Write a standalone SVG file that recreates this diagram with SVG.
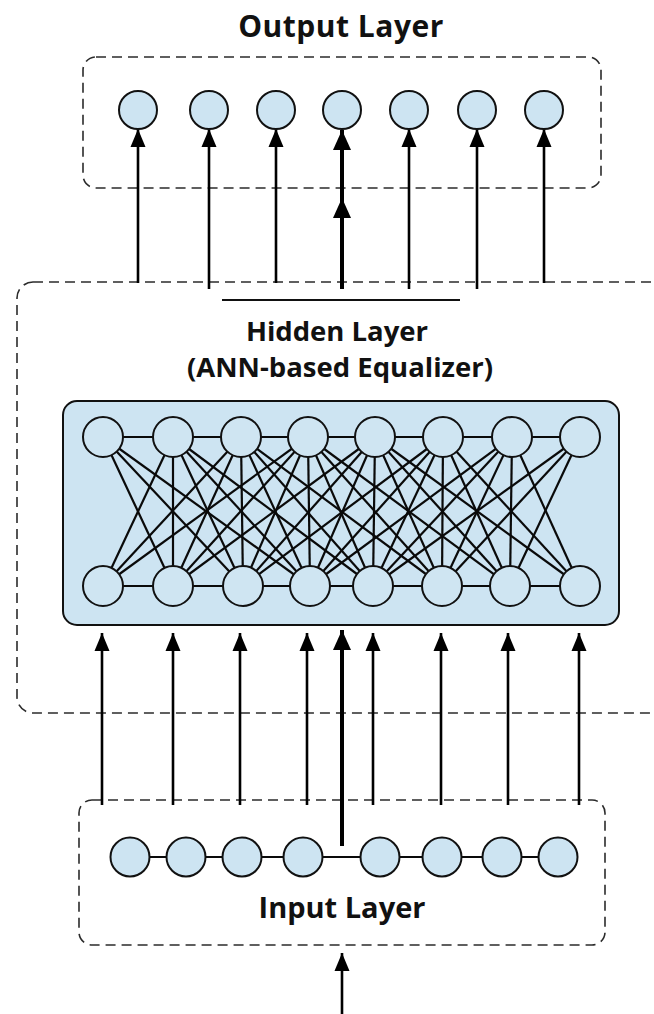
<svg xmlns="http://www.w3.org/2000/svg" width="654" height="1014" viewBox="0 0 654 1014">
  <style>
    .dash { fill: none; stroke: #2b2b2b; stroke-width: 1.6; stroke-dasharray: 10 6; }
    .node { fill: #cde4f2; stroke: #111; stroke-width: 2; }
    .hnode { fill: #cfe5f2; stroke: #111; stroke-width: 2; }
    .edge { stroke: #0a0a0a; stroke-width: 2.2; fill: none; }
    .arr { stroke: #000; stroke-width: 2.6; fill: none; marker-end: url(#ah); }
    .arrT { stroke: #000; stroke-width: 4; fill: none; marker-end: url(#ahT); }
    .title { font-family: "Open Sans", "Liberation Sans", sans-serif; font-weight: 700; fill: #111; text-anchor: middle; }
  </style>
  <defs>
    <marker id="ah" markerUnits="userSpaceOnUse" markerWidth="20" markerHeight="20" viewBox="0 0 20 20" refX="18" refY="10" orient="auto">
      <path d="M0,2.5 L18,10 L0,17.5 Z" fill="#000"/>
    </marker>
    <marker id="ahT" markerUnits="userSpaceOnUse" markerWidth="22" markerHeight="22" viewBox="0 0 22 22" refX="20" refY="11" orient="auto">
      <path d="M0,2 L20,11 L0,20 Z" fill="#000"/>
    </marker>
  </defs>
  <rect width="654" height="1014" fill="#fff"/>

  <!-- containers -->
  <g id="output-layer-box">
    <rect class="dash" x="83" y="57" width="518" height="131" rx="13"/>
    <text class="title" x="341" y="37" font-size="30" letter-spacing="0.5">Output Layer</text>
  </g>
  <g id="hidden-layer-box">
    <rect class="dash" x="17" y="282" width="700" height="431" rx="16"/>
    <line x1="222" y1="300" x2="460" y2="300" stroke="#111" stroke-width="2"/>
    <text class="title" x="337" y="341" font-size="27.5" font-weight="600">Hidden Layer</text>
    <text class="title" x="340" y="377" font-size="27.5" font-weight="600">(ANN-based Equalizer)</text>
  </g>
  <g id="ann-panel">
    <rect x="63" y="401" width="556" height="224" rx="14" fill="#cde4f2" stroke="#111" stroke-width="2"/>
  </g>
  <g id="input-layer-box">
    <rect class="dash" x="79" y="800" width="526" height="145" rx="13"/>
    <text class="title" x="342" y="918" font-size="29">Input Layer</text>
  </g>

  <!-- connectors -->
  <g id="connectors">
    <!-- hidden mesh -->
    <g id="hidden-edges">
      <line class="edge" x1="103" y1="437" x2="580" y2="437"/>
      <line class="edge" x1="103" y1="586" x2="580" y2="586"/>
      <!-- verticals -->
      <line class="edge" x1="173" y1="437" x2="173" y2="586"/>
      <line class="edge" x1="241" y1="437" x2="243" y2="586"/>
      <line class="edge" x1="308" y1="437" x2="310" y2="586"/>
      <line class="edge" x1="375" y1="437" x2="373" y2="586"/>
      <line class="edge" x1="443" y1="437" x2="442" y2="586"/>
      <line class="edge" x1="512" y1="437" x2="510" y2="586"/>
      <!-- T1 -->
      <line class="edge" x1="103" y1="437" x2="173" y2="586"/>
      <line class="edge" x1="103" y1="437" x2="243" y2="586"/>
      <line class="edge" x1="103" y1="437" x2="310" y2="586"/>
      <!-- T2 -->
      <line class="edge" x1="173" y1="437" x2="103" y2="586"/>
      <line class="edge" x1="173" y1="437" x2="243" y2="586"/>
      <line class="edge" x1="173" y1="437" x2="310" y2="586"/>
      <line class="edge" x1="173" y1="437" x2="373" y2="586"/>
      <!-- T3 -->
      <line class="edge" x1="241" y1="437" x2="103" y2="586"/>
      <line class="edge" x1="241" y1="437" x2="173" y2="586"/>
      <line class="edge" x1="241" y1="437" x2="310" y2="586"/>
      <line class="edge" x1="241" y1="437" x2="373" y2="586"/>
      <line class="edge" x1="241" y1="437" x2="442" y2="586"/>
      <!-- T4 -->
      <line class="edge" x1="308" y1="437" x2="103" y2="586"/>
      <line class="edge" x1="308" y1="437" x2="173" y2="586"/>
      <line class="edge" x1="308" y1="437" x2="243" y2="586"/>
      <line class="edge" x1="308" y1="437" x2="373" y2="586"/>
      <line class="edge" x1="308" y1="437" x2="442" y2="586"/>
      <line class="edge" x1="308" y1="437" x2="510" y2="586"/>
      <!-- T5 -->
      <line class="edge" x1="375" y1="437" x2="173" y2="586"/>
      <line class="edge" x1="375" y1="437" x2="243" y2="586"/>
      <line class="edge" x1="375" y1="437" x2="310" y2="586"/>
      <line class="edge" x1="375" y1="437" x2="442" y2="586"/>
      <line class="edge" x1="375" y1="437" x2="510" y2="586"/>
      <line class="edge" x1="375" y1="437" x2="580" y2="586"/>
      <!-- T6 -->
      <line class="edge" x1="443" y1="437" x2="243" y2="586"/>
      <line class="edge" x1="443" y1="437" x2="310" y2="586"/>
      <line class="edge" x1="443" y1="437" x2="373" y2="586"/>
      <line class="edge" x1="443" y1="437" x2="510" y2="586"/>
      <line class="edge" x1="443" y1="437" x2="580" y2="586"/>
      <!-- T7 -->
      <line class="edge" x1="512" y1="437" x2="310" y2="586"/>
      <line class="edge" x1="512" y1="437" x2="373" y2="586"/>
      <line class="edge" x1="512" y1="437" x2="442" y2="586"/>
      <line class="edge" x1="512" y1="437" x2="580" y2="586"/>
      <!-- T8 -->
      <line class="edge" x1="580" y1="437" x2="373" y2="586"/>
      <line class="edge" x1="580" y1="437" x2="442" y2="586"/>
      <line class="edge" x1="580" y1="437" x2="510" y2="586"/>
    </g>
    <!-- input chain -->
    <line class="edge" x1="130" y1="857" x2="558" y2="857" stroke-width="1.8"/>
    <!-- hidden -> output arrows -->
    <line class="arr" x1="138" y1="283" x2="138" y2="129"/>
    <line class="arr" x1="209" y1="289" x2="209" y2="129"/>
    <line class="arr" x1="276" y1="283" x2="276" y2="129"/>
    <path class="arrT" d="M342,289 L342,198 L342,130" marker-mid="url(#ahT)"/>
    <line class="arr" x1="409" y1="289" x2="409" y2="129"/>
    <line class="arr" x1="477" y1="289" x2="477" y2="129"/>
    <line class="arr" x1="544" y1="283" x2="544" y2="129"/>
    <!-- input -> hidden arrows -->
    <line class="arr" x1="102" y1="805" x2="102" y2="633"/>
    <line class="arr" x1="173" y1="805" x2="173" y2="633"/>
    <line class="arr" x1="240" y1="805" x2="240" y2="633"/>
    <line class="arr" x1="307" y1="805" x2="307" y2="633"/>
    <line class="arrT" x1="342" y1="846" x2="342" y2="630"/>
    <line class="arr" x1="373" y1="805" x2="373" y2="633"/>
    <line class="arr" x1="441" y1="805" x2="441" y2="633"/>
    <line class="arr" x1="508" y1="805" x2="508" y2="633"/>
    <line class="arr" x1="579" y1="805" x2="579" y2="633"/>
    <!-- external input -->
    <line class="arr" x1="342" y1="1014" x2="342" y2="953"/>
  </g>

  <!-- output nodes -->
  <g id="output-nodes">
    <circle id="o1" class="node" cx="138" cy="110" r="19"/>
    <circle id="o2" class="node" cx="209" cy="110" r="19"/>
    <circle id="o3" class="node" cx="276" cy="110" r="19"/>
    <circle id="o4" class="node" cx="342" cy="110" r="19"/>
    <circle id="o5" class="node" cx="409" cy="110" r="19"/>
    <circle id="o6" class="node" cx="477" cy="110" r="19"/>
    <circle id="o7" class="node" cx="544" cy="110" r="19"/>
  </g>
  <!-- hidden nodes -->
  <g id="hidden-top-nodes">
    <circle id="t1" class="hnode" cx="103" cy="437" r="20"/>
    <circle id="t2" class="hnode" cx="173" cy="437" r="20"/>
    <circle id="t3" class="hnode" cx="241" cy="437" r="20"/>
    <circle id="t4" class="hnode" cx="308" cy="437" r="20"/>
    <circle id="t5" class="hnode" cx="375" cy="437" r="20"/>
    <circle id="t6" class="hnode" cx="443" cy="437" r="20"/>
    <circle id="t7" class="hnode" cx="512" cy="437" r="20"/>
    <circle id="t8" class="hnode" cx="580" cy="437" r="20"/>
  </g>
  <g id="hidden-bottom-nodes">
    <circle id="b1" class="hnode" cx="103" cy="586" r="20"/>
    <circle id="b2" class="hnode" cx="173" cy="586" r="20"/>
    <circle id="b3" class="hnode" cx="243" cy="586" r="20"/>
    <circle id="b4" class="hnode" cx="310" cy="586" r="20"/>
    <circle id="b5" class="hnode" cx="373" cy="586" r="20"/>
    <circle id="b6" class="hnode" cx="442" cy="586" r="20"/>
    <circle id="b7" class="hnode" cx="510" cy="586" r="20"/>
    <circle id="b8" class="hnode" cx="580" cy="586" r="20"/>
  </g>
  <!-- input nodes -->
  <g id="input-nodes">
    <circle id="i1" class="node" cx="130" cy="857" r="19.5"/>
    <circle id="i2" class="node" cx="186" cy="857" r="19.5"/>
    <circle id="i3" class="node" cx="242" cy="857" r="19.5"/>
    <circle id="i4" class="node" cx="303" cy="857" r="19.5"/>
    <circle id="i5" class="node" cx="380" cy="857" r="19.5"/>
    <circle id="i6" class="node" cx="442" cy="857" r="19.5"/>
    <circle id="i7" class="node" cx="502" cy="857" r="19.5"/>
    <circle id="i8" class="node" cx="558" cy="857" r="19.5"/>
  </g>
</svg>
